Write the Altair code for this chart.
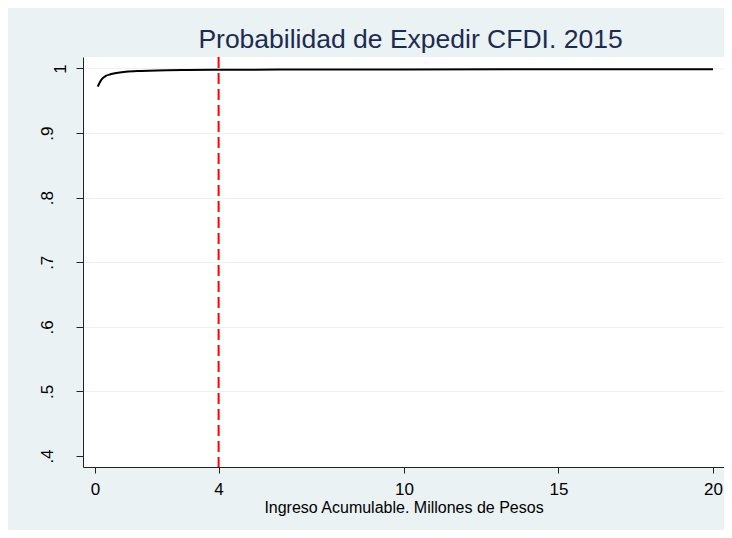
import altair as alt
import pandas as pd

# Data
income = [0.09, 0.15, 0.25, 0.35, 0.5, 0.75, 1.0, 1.5, 2.0, 3.0, 4.0, 6.0, 8.0, 10.0, 15.0, 20.0]
prob = [0.9718, 0.978, 0.985, 0.9885, 0.991, 0.9935, 0.995, 0.9962, 0.997, 0.9977,
        0.998, 0.9983, 0.9985, 0.9986, 0.9987, 0.9988]
threshold = [4]
x_ticks = [0, 4, 10, 15, 20]
y_ticks = [0.4, 0.5, 0.6, 0.7, 0.8, 0.9, 1.0]

curve_df = pd.DataFrame({"x": income, "p": prob})
vline_df = pd.DataFrame({"x": threshold})

FONT = "Liberation Sans"
BG = "#EAF2F3"

x_scale = alt.Scale(domain=[-0.388, 20.356], nice=False, zero=False)
y_scale = alt.Scale(domain=[0.383, 1.0178], nice=False, zero=False)

x_axis = alt.Axis(
    values=x_ticks,
    title="Ingreso Acumulable. Millones de Pesos",
    grid=False,
    tickSize=6,
    tickColor="#222222",
    domainColor="#222222",
    labelFontSize=17,
    labelColor="black",
    labelPadding=8,
    labelFont=FONT,
    titleFont=FONT,
    titleFontSize=16,
    titleFontWeight="normal",
    titleColor="black",
    titlePadding=2,
)

y_axis = alt.Axis(
    values=y_ticks,
    title=None,
    grid=True,
    gridColor={"condition": {"test": "datum.value < 0.45", "value": "transparent"}, "value": BG},
    gridWidth=1.2,
    tickSize=7,
    tickColor="#222222",
    domainColor="#222222",
    labelAngle=270,
    labelAlign="center",
    labelBaseline={"condition": {"test": "datum.value > 0.95", "value": "top"}, "value": "alphabetic"},
    labelExpr="datum.value > 0.95 ? '1' : replace(format(datum.value, '.1f'), '0.', '.')",
    labelFontSize=17,
    labelColor="black",
    labelFont=FONT,
    labelPadding=24,
)

line = alt.Chart(curve_df).mark_line(color="black", strokeWidth=2, interpolate="monotone").encode(
    x=alt.X("x:Q", scale=x_scale, axis=x_axis),
    y=alt.Y("p:Q", scale=y_scale, axis=y_axis),
)

rule = alt.Chart(vline_df).mark_rule(color="#FF0000", strokeWidth=2, strokeDash=[11, 5]).encode(
    x=alt.X("x:Q", scale=x_scale),
)

chart = alt.layer(line, rule).properties(
    width=641,
    height=410,
    title=alt.TitleParams(
        "Probabilidad de Expedir CFDI. 2015",
        fontSize=26.5,
        font=FONT,
        fontWeight="normal",
        color="#1C2B52",
        anchor="middle",
        baseline="alphabetic",
        offset=-18,
        dx=7,
    ),
    padding={"left": 75, "top": 49, "right": 0, "bottom": 63},
    autosize=alt.AutoSizeParams(type="none"),
    background=BG,
).configure(
    font=FONT,
    view=alt.ViewConfig(fill="white", stroke=None),
)

chart.save("out.html", embed_options={"renderer": "svg", "actions": False})
